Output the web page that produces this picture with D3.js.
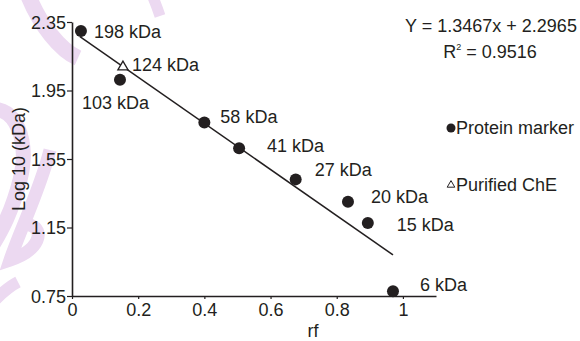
<!DOCTYPE html>
<html>
<head>
<meta charset="utf-8">
<script src="https://cdn.jsdelivr.net/npm/d3@7"></script>
<style>
  body { margin: 0; background: #fff; }
  svg text { font-family: "Liberation Sans", Arial, sans-serif; fill: #231f20; }
</style>
</head>
<body>
<div id="chart"></div>
<script>
// data
var labels = ["198 kDa", "124 kDa", "103 kDa", "58 kDa", "41 kDa", "27 kDa", "20 kDa", "15 kDa", "6 kDa"];
var rf = [0.027, 0.154, 0.145, 0.40, 0.505, 0.676, 0.834, 0.894, 0.970];
var logKDa = [2.297, 2.093, 2.013, 1.763, 1.613, 1.431, 1.301, 1.176, 0.778];
var kind = ["marker", "che", "marker", "marker", "marker", "marker", "marker", "marker", "marker"];
var xTicks = [0, 0.2, 0.4, 0.6, 0.8, 1];
var yTicks = [0.75, 1.15, 1.55, 1.95, 2.35];
var slope = -1.3467, intercept = 2.2965;
var fitRange = [0.024, 0.97];

// label placement relative to each point (layout only)
var labelDx = [13, 9, -38, 16, 28, 19, 23, 29, 27];
var labelDy = [7, 5, 29, 0, 4, -3, 1, 8, 0];

const W = 580, H = 341;
const ink = "#231f20";
const fontSize = 18;

var svg = d3.select("#chart").append("svg")
  .attr("width", W)
  .attr("height", H);

/* watermark swirls */
var wm = svg.append("g").attr("fill", "none").attr("stroke", "#ecd9f1").attr("stroke-linecap", "butt");
wm.append("path").attr("d", "M28,-5 C40,25 60,50 78,58").attr("stroke-width", 16);
wm.append("path").attr("d", "M152,-5 C156,4 158,10 160,16").attr("stroke-width", 11);
wm.append("path").attr("d", "M-10,110 C15,105 30,140 20,180 C10,220 -5,240 -10,250").attr("stroke-width", 15);
wm.append("path").attr("d", "M50,150 C40,190 20,230 10,260 C40,250 45,230 30,225").attr("stroke-width", 13);
wm.append("path").attr("d", "M-5,300 C5,290 12,285 18,282").attr("stroke-width", 12);

/* scales */
var x = d3.scaleLinear().domain([0, 1.1]).range([72, 436]);
var y = d3.scaleLinear().domain([0.75, 2.35]).range([296, 22]);

var xAxis = d3.axisBottom(x).tickValues(xTicks).tickSize(3).tickPadding(4)
  .tickFormat(d => d3.format("~g")(d)).tickSizeOuter(0);
var yAxis = d3.axisLeft(y).tickValues(yTicks).tickSize(5).tickPadding(1)
  .tickFormat(d3.format(".2f")).tickSizeOuter(0);

var gx = svg.append("g")
  .attr("transform", `translate(0, ${y(0.75)})`)
  .call(xAxis);
var gy = svg.append("g")
  .attr("transform", `translate(${x(0)}, 0)`)
  .call(yAxis);

[gx, gy].forEach(function(g) {
  g.select(".domain").attr("stroke", ink).attr("stroke-width", 1.6);
  g.selectAll(".tick line").attr("stroke", ink).attr("stroke-width", 1.2);
  g.selectAll(".tick text")
    .style("font-family", "'Liberation Sans', Arial, sans-serif")
    .style("font-size", fontSize + "px")
    .attr("fill", ink);
});
gy.selectAll(".tick text").attr("dy", "0.36em");

/* axis titles */
svg.append("text")
  .attr("x", 313).attr("y", 337)
  .attr("text-anchor", "middle")
  .style("font-size", fontSize + "px")
  .text("rf");

svg.append("text")
  .attr("transform", `translate(25, ${(y(0.75) + y(2.35)) / 2}) rotate(-90)`)
  .attr("text-anchor", "middle")
  .style("font-size", fontSize + "px")
  .text("Log 10 (kDa)");

/* fit line */
var fit = d3.line()
  .x(d => x(d))
  .y(d => y(slope * d + intercept));
svg.append("path")
  .attr("d", fit(fitRange))
  .attr("fill", "none")
  .attr("stroke", ink)
  .attr("stroke-width", 1.5);

/* points */
var pts = d3.range(labels.length);
var tri = d3.symbol().type(d3.symbolTriangle).size(45);

svg.selectAll(".dot")
  .data(pts.filter(i => kind[i] == "marker")).enter()
  .append("circle")
  .attr("cx", i => x(rf[i]))
  .attr("cy", i => y(logKDa[i]))
  .attr("r", 6)
  .attr("fill", ink);

svg.selectAll(".tri")
  .data(pts.filter(i => kind[i] == "che")).enter()
  .append("path")
  .attr("d", tri)
  .attr("transform", i => `translate(${x(rf[i])}, ${y(logKDa[i]) + 1})`)
  .attr("fill", "#fff")
  .attr("stroke", ink)
  .attr("stroke-width", 1.3);

svg.selectAll(".lbl")
  .data(pts).enter()
  .append("text")
  .attr("x", i => x(rf[i]) + labelDx[i])
  .attr("y", i => y(logKDa[i]) + labelDy[i])
  .style("font-size", fontSize + "px")
  .text(i => labels[i]);

/* equation */
svg.append("text")
  .attr("x", 491).attr("y", 32)
  .attr("text-anchor", "middle")
  .style("font-size", fontSize + "px")
  .text("Y = 1.3467x + 2.2965");

var r2 = svg.append("text")
  .attr("x", 490).attr("y", 58)
  .attr("text-anchor", "middle")
  .style("font-size", fontSize + "px");
r2.append("tspan").text("R");
r2.append("tspan").attr("dy", -8).style("font-size", "9px").text("2");
r2.append("tspan").attr("dy", 8).text(" = 0.9516");

/* legend */
svg.append("circle")
  .attr("cx", 451).attr("cy", 128).attr("r", 4.5).attr("fill", ink);
svg.append("text")
  .attr("x", 456).attr("y", 134)
  .style("font-size", fontSize + "px")
  .text("Protein marker");

svg.append("path")
  .attr("d", d3.symbol().type(d3.symbolTriangle).size(25))
  .attr("transform", "translate(451, 185)")
  .attr("fill", "#fff")
  .attr("stroke", ink)
  .attr("stroke-width", 1);
svg.append("text")
  .attr("x", 456).attr("y", 191)
  .style("font-size", fontSize + "px")
  .text("Purified ChE");
</script>
</body>
</html>
